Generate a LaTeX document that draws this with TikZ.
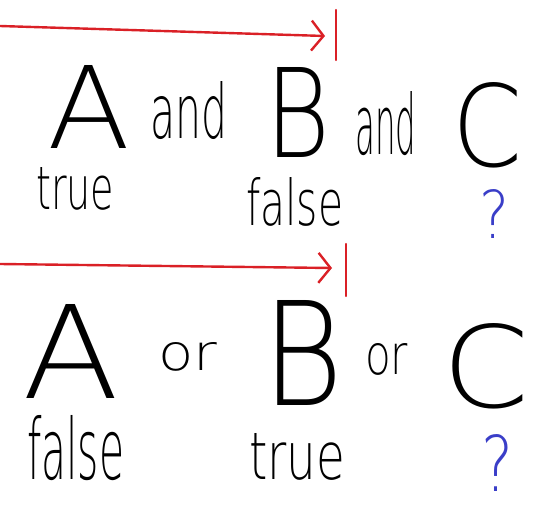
\documentclass[tikz,border=0pt]{standalone}
\usepackage{fontspec}
\usepackage{graphicx}
\usetikzlibrary{arrows.meta}
\newfontfamily\handfont{DejaVu Sans ExtraLight}
\definecolor{penred}{RGB}{218,32,38}
\definecolor{penblue}{RGB}{58,62,200}
% word fitted into its box: width, height, text
\newcommand{\fitword}[3]{\resizebox{#1pt}{#2pt}{\handfont #3}}
\begin{document}
\begin{tikzpicture}[x=1pt,y=-1pt,
  word/.style={inner sep=0pt,anchor=south west},
  query/.style={word,text=penblue},
  redline/.style={penred,line width=2.4pt,line cap=round},
  redarrow/.style={redline,-{Straight Barb[length=12pt,width=30pt,line width=2.4pt]}}]
\useasboundingbox (0,0) rectangle (560,514);

% first line: and
\coordinate (andfrom) at (0,26);
\coordinate (andto) at (325,36);
\coordinate (andbartop) at (336,10);
\coordinate (andbarbot) at (336,60);
\draw[redarrow] (andfrom) -- (andto);
\draw[redline] (andbartop) -- (andbarbot);

\node[word] (a1) at (47,149) {\fitword{83}{83}{A}};
\node[word] (and1) at (150,140) {\fitword{77}{57}{and}};
\node[word] (b1) at (265,158) {\fitword{65}{90}{B}};
\node[word] (and2) at (355,156) {\fitword{61}{63}{and}};
\node[word] (c1) at (452,168) {\fitword{70}{84}{C}};
\node[word] (true1) at (36,211) {\fitword{78}{42}{true}};
\node[word] (false1) at (246,227) {\fitword{97}{48}{false}};
\node[query] (q1) at (479,239) {\fitword{30}{49}{?}};

% second line: or
\coordinate (orfrom) at (0,264);
\coordinate (orto) at (332,268);
\coordinate (orbartop) at (346,244);
\coordinate (orbarbot) at (346,296);
\draw[redarrow] (orfrom) -- (orto);
\draw[redline] (orbartop) -- (orbarbot);

\node[word] (a2) at (22,399) {\fitword{97}{94}{A}};
\node[word] (or1) at (158,372) {\fitword{59}{28}{or}};
\node[word] (b2) at (262,406) {\fitword{81}{105}{B}};
\node[word] (or2) at (365,376) {\fitword{43}{31}{or}};
\node[word] (c2) at (442,409) {\fitword{87}{84}{C}};
\node[word] (false2) at (27,481) {\fitword{97}{64}{false}};
\node[word] (true2) at (249,481) {\fitword{96}{46}{true}};
\node[query] (q2) at (481,492) {\fitword{32}{57}{?}};
\end{tikzpicture}
\end{document}
